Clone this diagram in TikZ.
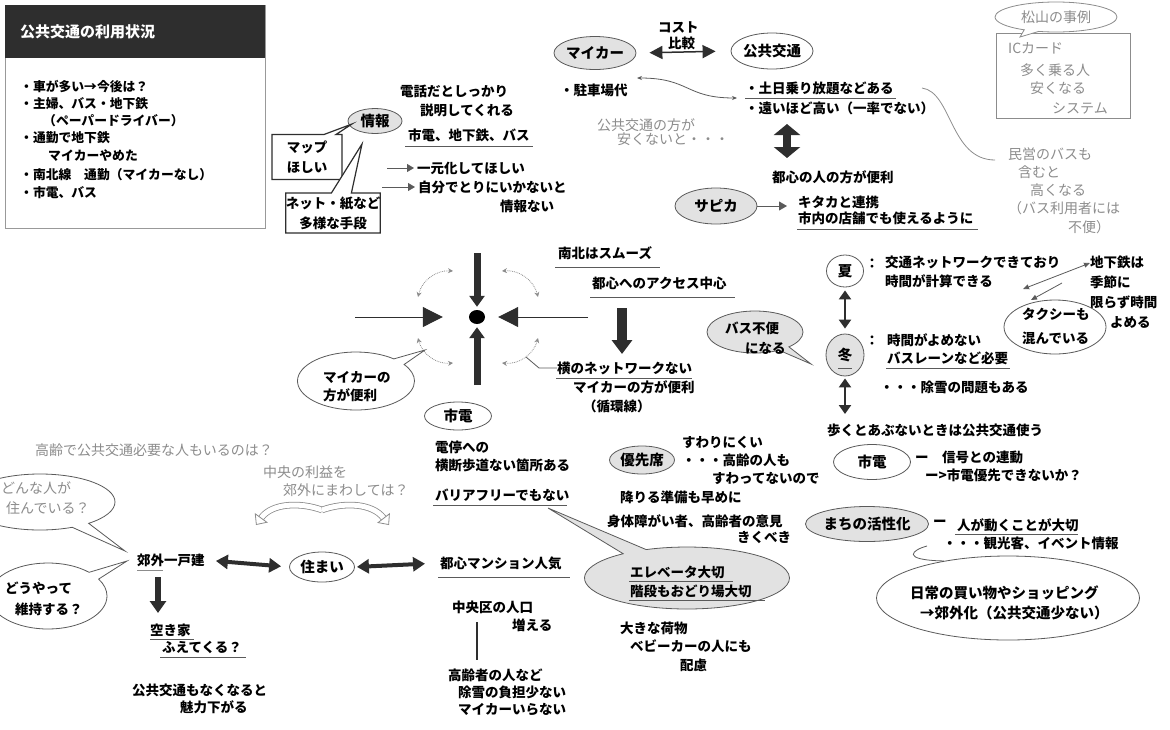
\documentclass[tikz,border=0pt]{standalone}
\usepackage{fontspec}
\setmainfont{Noto Sans CJK JP}
\usetikzlibrary{arrows.meta,shapes.geometric,shapes.callouts}
\definecolor{dk}{HTML}{2E2E2E}
\definecolor{lg}{HTML}{E2E2E2}
\definecolor{gt}{HTML}{8C8C8C}
\definecolor{ln}{HTML}{5A5A5A}
\newcommand\ftxt{\fontsize{13.5}{20}\selectfont\bfseries}
\newcommand\fgry{\fontsize{14}{16}\selectfont}
\newcommand\fell{\fontsize{14.5}{16}\selectfont\bfseries}
\newcommand\fsmall{\fontsize{12.8}{15}\selectfont\bfseries}
\begin{document}
\begin{tikzpicture}[x=1pt,y=-1pt,
 tx/.style={anchor=west,inner sep=0pt,font=\ftxt},
 gx/.style={anchor=west,inner sep=0pt,font=\fgry,text=gt},
 bx/.style={anchor=west,inner sep=0pt,font=\fsmall},
 ul/.style={draw=ln,line width=0.8pt},
 el/.style={ellipse,draw=ln,line width=0.8pt,inner sep=0pt,font=\fell},
 gel/.style={el,fill=lg},
 wel/.style={el,fill=white},
 cal/.style={ellipse callout,draw=ln,line width=0.8pt,inner sep=0pt},
 thin/.style={draw=ln,line width=0.8pt},
 dots/.style={draw=gt,line width=0.8pt,densely dotted,{Stealth[length=5pt,width=5pt]}-{Stealth[length=5pt,width=5pt]}},
 fatd/.style={draw=dk,line width=4pt,{Triangle[length=12pt,width=14pt]}-{Triangle[length=12pt,width=14pt]}},
 hol/.style={draw=gt,line width=0.8pt,double=white,double distance=5pt,-{Triangle[open,length=9pt,width=16pt,line width=0.8pt]}},
]
\useasboundingbox (0,0) rectangle (1170,729);
\clip (0,0) rectangle (1170,729);

% ---------- status box ----------
\node[draw=gray!80,line width=0.8pt,anchor=north west,minimum width=260,minimum height=223,inner sep=0pt] (sbox) at (5,5) {};
\node[fill=dk,anchor=north west,minimum width=260,minimum height=53,inner sep=0pt] (shdr) at (5,5) {};
\node[anchor=west,inner sep=0pt,text=white,font=\fontsize{15}{17}\selectfont\bfseries] (stitle) at (20,32) {公共交通の利用状況};
\node[bx] (s1) at (20,87) {・車が多い→今後は？};
\node[bx] (s2) at (20,104) {・主婦、バス・地下鉄};
\node[bx] (s3) at (43,121) {（ペーパードライバー）};
\node[bx] (s4) at (20,138) {・通勤で地下鉄};
\node[bx] (s5) at (48,156) {マイカーやめた};
\node[bx] (s6) at (20,175) {・南北線　通勤（マイカーなし）};
\node[bx] (s7) at (20,193) {・市電、バス};

% ---------- information ----------
\node[gel,minimum width=54,minimum height=25] (info) at (375,121) {情報};
\node[rectangle callout,draw=dk,line width=1.2pt,fill=white,minimum width=70,minimum height=45,inner sep=0pt,font=\ftxt,align=center,callout absolute pointer={(352,124)},callout pointer width=12pt] (map) at (307,157) {マップ\\ほしい};
\node[rectangle callout,draw=dk,line width=1.2pt,fill=white,minimum width=93,minimum height=40,inner sep=0pt,font=\ftxt,align=center,callout absolute pointer={(362,144)},callout pointer width=20pt] (net) at (333,213) {ネット・紙など\\多様な手段};
\node[tx] (i1) at (400,91) {電話だとしっかり};
\node[tx] (i2) at (420,110) {説明してくれる};
\node[tx] (i3) at (408,135) {市電、地下鉄、バス};
\draw[ul] (405,146) -- (533,146);
\node[tx] (i4) at (417,168) {一元化してほしい};
\node[tx] (i5) at (418,187) {自分でとりにいかないと};
\node[tx] (i6) at (500,206) {情報ない};
\coordinate (a1s) at (387,168); \coordinate (a2s) at (382,187);
\draw[thin,-{Triangle[length=7pt,width=8pt]},shorten >=3pt] (a1s) -- (i4.west);
\draw[thin,-{Triangle[length=7pt,width=8pt]},shorten >=3pt] (a2s) -- (i5.west);

% ---------- cost ----------
\node[gel,minimum width=80,minimum height=33] (myc) at (595,53) {マイカー};
\node[wel,minimum width=80,minimum height=36] (pub) at (772,51) {公共交通};
\draw[draw=dk,line width=1.5pt,{Triangle[length=13pt,width=13pt]}-{Triangle[length=13pt,width=13pt]},shorten <=13pt,shorten >=15pt] (myc.east) -- (pub.west);
\node[tx] (cost1) at (658,27) {コスト};
\node[tx] (cost2) at (668,43) {比較};
\node[tx] (park) at (560,90) {・駐車場代};
\node[tx] (dd1) at (745,88) {・土日乗り放題などある};
\draw[ul] (745,98) -- (896,98);
\node[tx] (dd2) at (745,108) {・遠いほど高い（一率でない）};
\coordinate (pa) at (637,78); \coordinate (pb) at (737,98);
\draw[thin,{Stealth[length=5pt,width=4pt]}-{Stealth[length=5pt,width=4pt]}] (pa) .. controls (690,78) and (685,98) .. (pb);
\node[gx] (g1) at (597,125) {公共交通の方が};
\node[gx] (g2) at (617,139) {安くないと・・・};
\coordinate (bv1) at (787,124); \coordinate (bv2) at (787,158);
\draw[draw=dk,line width=8pt,{Triangle[length=11pt,width=26pt]}-{Triangle[length=11pt,width=26pt]}] (bv1) -- (bv2);
\node[tx] (conv) at (772,177) {都心の人の方が便利};
\node[gel,minimum width=82,minimum height=36] (sap) at (716,206) {サピカ};
\node[tx] (kit1) at (798,202) {キタカと連携};
\node[tx] (kit2) at (798,218) {市内の店舗でも使えるように};
\draw[ul] (797,229) -- (978,229);
\draw[thin,-{Triangle[length=8pt,width=9pt]},shorten >=11pt] (sap.east) -- (sap.east -| kit1.west);

% ---------- Matsuyama ----------
\node[draw=gt,line width=0.8pt,anchor=north west,minimum width=134,minimum height=85,inner sep=0pt] (matbox) at (996,33) {};
\node[cal,fill=white,draw=gt,minimum width=122,minimum height=30,font=\fgry,text=gt,callout absolute pointer={(1020,37)}] (mat) at (1056,17) {松山の事例};
\node[gx] (m1) at (1008,48) {ICカード};
\node[gx] (m2) at (1020,70) {多く乗る人};
\node[gx] (m3) at (1030,88) {安くなる};
\node[gx] (m4) at (1052,108) {システム};
\coordinate (cv1) at (922,88); \coordinate (cv2) at (995,160);
\draw[draw=gt,line width=0.8pt] (cv1) .. controls (952,92) and (950,160) .. (cv2);
\node[gx] (p1) at (1008,154) {民営のバスも};
\node[gx] (p2) at (1018,172) {含むと};
\node[gx] (p3) at (1030,190) {高くなる};
\node[gx] (p4) at (1008,208) {（バス利用者には};
\node[gx] (p5) at (1068,227) {不便）};

% ---------- centre cross ----------
\node[ellipse,fill=black,minimum width=16,minimum height=14,inner sep=0pt] (hub) at (477,317) {};
\coordinate (vtop) at (477,253); \coordinate (vbot) at (477,385);
\draw[draw=dk,line width=7pt,-{Triangle[length=11pt,width=15pt]},shorten >=3pt] (vtop) -- (hub.north);
\draw[draw=dk,line width=7pt,-{Triangle[length=11pt,width=15pt]},shorten >=3pt] (vbot) -- (hub.south);
\coordinate (hlft) at (355,317); \coordinate (hrgt) at (588,317);
\draw[draw=dk,line width=1pt,-{Triangle[length=20pt,width=20pt]},shorten >=26pt] (hlft) -- (hub.west);
\draw[draw=dk,line width=1pt,-{Triangle[length=20pt,width=20pt]},shorten >=13pt] (hrgt) -- (hub.east);
\coordinate (d1a) at (418,297); \coordinate (d1b) at (453,271);
\coordinate (d2a) at (502,271); \coordinate (d2b) at (538,297);
\coordinate (d3a) at (538,338); \coordinate (d3b) at (502,363);
\coordinate (d4a) at (453,363); \coordinate (d4b) at (418,338);
\draw[dots] (d1a) to[bend left=40] (d1b);
\draw[dots] (d2a) to[bend left=40] (d2b);
\draw[dots] (d3a) to[bend left=40] (d3b);
\draw[dots] (d4a) to[bend left=40] (d4b);
\node[tx] (ns) at (558,253) {南北はスムーズ};
\draw[ul] (555,267) -- (660,267);
\node[tx] (acc) at (592,283) {都心へのアクセス中心};
\draw[ul] (590,297) -- (735,297);
\coordinate (fd1) at (622,308); \coordinate (fd2) at (622,354);
\draw[draw=dk,line width=10pt,-{Triangle[length=14pt,width=20pt]}] (fd1) -- (fd2);
\node[tx] (yoko) at (557,368) {横のネットワークない};
\draw[ul] (556,378) -- (692,378);
\coordinate (yk0) at (526,357); \coordinate (yk1) at (539,368);
\draw[thin] (yk0) -- (yk1) -- (yoko.west);
\node[tx] (yoko2) at (573,387) {マイカーの方が便利};
\node[tx] (yoko3) at (583,406) {（循環線）};
\node[cal,fill=white,minimum width=117,minimum height=58,callout absolute pointer={(425,350)}] (mcb) at (356,381) {};
\node[tx] (mc1) at (323,377) {マイカーの};
\node[tx] (mc2) at (323,395) {方が便利};
\node[wel,minimum width=67,minimum height=28] (shiden) at (458,416) {市電};
\node[tx] (sd1) at (435,447) {電停への};
\node[tx] (sd2) at (435,465) {横断歩道ない箇所ある};
\node[tx] (sd3) at (435,495) {バリアフリーでもない};
\draw[ul] (433,505) -- (567,505);

% ---------- seasons ----------
\node[wel,minimum width=37,minimum height=32] (natsu) at (845,271) {夏};
\node[gel,minimum width=38,minimum height=42] (fuyu) at (845,355) {冬};
\draw[ul] (838,368) -- (852,368);
\draw[draw=dk,line width=2.5pt,{Triangle[length=9pt,width=12pt]}-{Triangle[length=9pt,width=12pt]},shorten <=3pt,shorten >=5pt] (natsu) -- (fuyu);
\coordinate (wk) at (845,414);
\draw[draw=dk,line width=2.5pt,{Triangle[length=9pt,width=12pt]}-{Triangle[length=9pt,width=12pt]},shorten <=2pt] (fuyu) -- (wk);
\node[tx,anchor=center] (col1) at (872,264) {：};
\node[tx,anchor=center] (col2) at (872,341) {：};
\node[tx] (n1) at (885,262) {交通ネットワークできており};
\node[tx] (n2) at (885,281) {時間が計算できる};
\node[tx] (f1) at (887,340) {時間がよめない};
\node[tx] (f2) at (887,358) {バスレーンなど必要};
\draw[ul] (886,368) -- (1010,368);
\node[tx] (f3) at (880,387) {・・・除雪の問題もある};
\node[tx] (sb1) at (1090,262) {地下鉄は};
\node[tx] (sb2) at (1090,282) {季節に};
\node[tx] (sb3) at (1090,302) {限らず時間};
\node[tx] (sb4) at (1110,322) {よめる};
\node[wel,minimum width=102,minimum height=54] (taxi) at (1055,327) {};
\node[tx] (tx1) at (1022,314) {タクシーも};
\node[tx] (tx2) at (1022,338) {混んでいる};
\coordinate (ar1) at (1090,263); \coordinate (ar2) at (1023,289);
\coordinate (ar3) at (1062,283); \coordinate (ar4) at (1031,300);
\draw[thin,{Triangle[length=6pt,width=5pt]}-{Triangle[length=6pt,width=5pt]}] (ar1) -- (ar2);
\draw[thin,-{Triangle[length=6pt,width=5pt]}] (ar3) -- (ar4);
\node[cal,fill=lg,minimum width=96,minimum height=42,callout absolute pointer={(811,364)}] (bus) at (755,332) {};
\node[tx] (bu1) at (725,328) {バス不便};
\node[tx] (bu2) at (745,348) {になる};
\node[tx] (walk) at (827,430) {歩くとあぶないときは公共交通使う};
\node[wel,minimum width=77,minimum height=35] (shiden2) at (872,462) {市電};
\node[tx] (sg1) at (915,457) {ー　信号との連動};
\node[tx] (sg2) at (925,475) {ー>市電優先できないか？};
\node[gel,minimum width=120,minimum height=35] (machi) at (867,524) {まちの活性化};
\node[tx] (mh0) at (933,523) {ー};
\node[tx] (mh1) at (957,525) {人が動くことが大切};
\draw[ul] (955,534) -- (1078,534);
\node[tx] (mh2) at (943,543) {・・・観光客、イベント情報};
\node[wel,minimum width=263,minimum height=84] (daily) at (1008,598) {};
\node[anchor=west,inner sep=0pt,font=\fell] (dl1) at (910,593) {日常の買い物やショッピング};
\node[anchor=west,inner sep=0pt,font=\fell] (dl2) at (920,613) {→郊外化（公共交通少ない）};
\coordinate (dc) at (927,546);
\draw[thin] (daily.150) .. controls (900,560) and (912,550) .. (dc);

% ---------- priority seats ----------
\node[gel,minimum width=65,minimum height=28] (yusen) at (642,460) {優先席};
\node[tx] (y1) at (682,442) {すわりにくい};
\node[tx] (y2) at (682,460) {・・・高齢の人も};
\node[tx] (y3) at (712,478) {すわってないので};
\node[tx] (y4) at (620,497) {降りる準備も早めに};
\node[tx] (y5) at (607,521) {身体障がい者、高齢者の意見};
\node[tx] (y6) at (737,537) {きくべき};
\node[cal,fill=lg,minimum width=205,minimum height=62,callout absolute pointer={(548,508)}] (elev) at (687,578) {};
\node[tx] (e1) at (630,572) {エレベータ大切};
\draw[ul] (629,581) -- (733,581);
\node[tx] (e2) at (630,591) {階段もおどり場大切};
\draw[ul] (629,600) -- (765,600);
\node[tx] (bg1) at (620,628) {大きな荷物};
\node[tx] (bg2) at (630,646) {ベビーカーの人にも};
\node[tx] (bg3) at (680,665) {配慮};

% ---------- housing ----------
\node[tx] (mansion) at (440,563) {都心マンション人気};
\draw[ul] (438,577) -- (570,577);
\node[tx] (cz1) at (452,607) {中央区の人口};
\node[tx] (cz2) at (512,625) {増える};
\coordinate (vl1) at (477,622); \coordinate (vl2) at (477,660);
\draw[draw=dk,line width=2pt] (vl1) -- (vl2);
\node[tx] (old1) at (448,675) {高齢者の人など};
\node[tx] (old2) at (458,692) {除雪の負担少ない};
\node[tx] (old3) at (458,710) {マイカーいらない};

\node[gx] (q1) at (35,450) {高齢で公共交通必要な人もいるのは？};
\node[gx] (q2) at (263,472) {中央の利益を};
\node[gx] (q3) at (283,490) {郊外にまわしては？};
\coordinate (hc) at (322,510); \coordinate (hl) at (256,525); \coordinate (hr) at (389,525);
\draw[hol] (hc) .. controls (300,502) and (272,503) .. (hl);
\draw[hol] (hc) .. controls (344,502) and (372,503) .. (hr);

\node[cal,fill=white,minimum width=150,minimum height=56,callout absolute pointer={(125,551)}] (who) at (40,502) {};
\node[gx] (w1) at (1,488) {どんな人が};
\node[gx] (w2) at (6,508) {住んでいる？};
\node[cal,fill=white,minimum width=118,minimum height=66,callout absolute pointer={(127,561)}] (how) at (48,596) {};
\node[tx] (h1) at (5,588) {どうやって};
\node[tx] (h2) at (15,609) {維持する？};

\node[tx] (kogai) at (137,560) {郊外一戸建};
\draw[draw=gt,line width=0.8pt] (137,570) -- (163,570);
\node[wel,minimum width=65,minimum height=30] (sumai) at (322,567) {住まい};
\draw[fatd,shorten <=11pt,shorten >=8pt] (kogai.east) -- (sumai.west);
\draw[fatd,shorten <=2pt,shorten >=15pt] (sumai.east) -- (mansion.west);
\coordinate (kd1) at (158,577); \coordinate (kd2) at (158,613);
\draw[draw=dk,line width=6pt,-{Triangle[length=12pt,width=16pt]}] (kd1) -- (kd2);
\node[tx] (ak1) at (150,630) {空き家};
\draw[ul] (150,639) -- (194,639);
\node[tx] (ak2) at (162,647) {ふえてくる？};
\draw[ul] (160,657) -- (246,657);
\node[tx] (lo1) at (132,690) {公共交通もなくなると};
\node[tx] (lo2) at (180,707) {魅力下がる};
\end{tikzpicture}
\end{document}
